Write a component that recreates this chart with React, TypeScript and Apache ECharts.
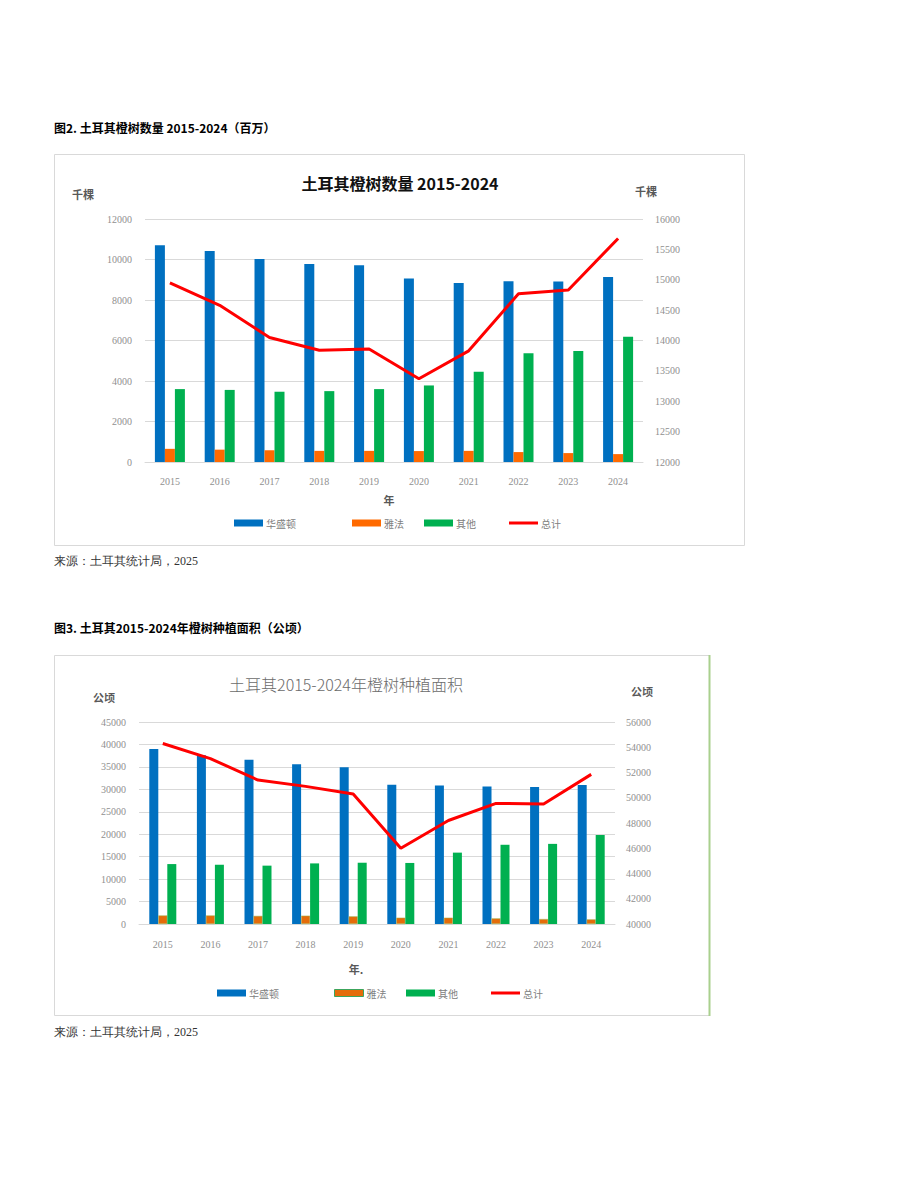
import React, { useEffect, useRef } from "react";
import * as echarts from "echarts";

const years = ["2015", "2016", "2017", "2018", "2019", "2020", "2021", "2022", "2023", "2024"];

// Figure 2: number of orange trees (thousand trees)
const treesWashington = [10700, 10420, 10020, 9780, 9720, 9060, 8840, 8930, 8910, 9130];
const treesJaffa = [650, 610, 580, 550, 550, 540, 550, 490, 440, 390];
const treesOther = [3600, 3560, 3470, 3500, 3600, 3780, 4460, 5370, 5480, 6190];
const treesTotal = [14950, 14580, 14050, 13840, 13860, 13370, 13830, 14770, 14830, 15680];

// Figure 3: planted area (hectares)
const areaWashington = [39000, 37600, 36600, 35600, 34900, 31000, 30850, 30650, 30500, 30950];
const areaJaffa = [1900, 1900, 1800, 1850, 1700, 1400, 1400, 1250, 1100, 1030];
const areaOther = [13350, 13200, 13000, 13500, 13650, 13600, 15900, 17650, 17850, 19850];
const areaTotal = [54300, 53100, 51400, 50900, 50300, 46000, 48200, 49550, 49500, 51850];

const seriesNames = ["华盛顿", "雅法", "其他", "总计"];

const BLUE = "#0070C0";
const ORANGE1 = "#FF6A00";
const ORANGE2 = "#E46C0A";
const GREEN = "#00B050";
const RED = "#FF0000";

const CJK = "'Noto Sans CJK SC', 'Noto Sans', sans-serif";
const NUM = "'Liberation Serif', 'DejaVu Serif', serif";
const LABEL_GRAY = "#8f8f8f";
const GRID_GRAY = "#d9d9d9";

export default function App() {
  const ref = useRef<HTMLDivElement>(null);

  useEffect(() => {
    if (!ref.current) return;
    const chart = echarts.init(ref.current, null, { renderer: "svg" });

    const axisLabel = {
      color: LABEL_GRAY,
      fontFamily: NUM,
      fontSize: 10,
      formatter: (v: any) => String(v),
    };

    const makeLegend = (left: number, top: number, name: string, extra: any = {}, itemHeight = 7) => ({
      left,
      top,
      padding: 0,
      itemWidth: 29,
      itemHeight,
      itemGap: 4,
      selectedMode: false,
      textStyle: { color: "#808080", fontFamily: CJK, fontSize: 10, padding: [0, 0, 0, -2], height: 12, lineHeight: 12 },
      data: [{ name, icon: "rect", ...extra }],
    });

    const option: any = {
      animation: false,
      backgroundColor: "#ffffff",
      grid: [
        { left: 145, top: 219, width: 498, height: 243 },
        { left: 139, top: 722, width: 476, height: 202 },
      ],
      xAxis: [
        {
          type: "category",
          gridIndex: 0,
          data: years,
          axisLine: { show: true, lineStyle: { color: GRID_GRAY } },
          axisTick: { show: false },
          axisLabel: { ...axisLabel, margin: 14 },
        },
        {
          type: "category",
          gridIndex: 1,
          data: years,
          axisLine: { show: true, lineStyle: { color: GRID_GRAY } },
          axisTick: { show: false },
          axisLabel: { ...axisLabel, margin: 15 },
        },
      ],
      yAxis: [
        {
          type: "value",
          gridIndex: 0,
          min: 0,
          max: 12000,
          interval: 2000,
          axisLine: { show: false },
          axisTick: { show: false },
          splitLine: { lineStyle: { color: GRID_GRAY } },
          axisLabel: { ...axisLabel, margin: 13 },
        },
        {
          type: "value",
          gridIndex: 0,
          position: "right",
          min: 12000,
          max: 16000,
          interval: 500,
          axisLine: { show: false },
          axisTick: { show: false },
          splitLine: { show: false },
          axisLabel: { ...axisLabel, margin: 12 },
        },
        {
          type: "value",
          gridIndex: 1,
          min: 0,
          max: 45000,
          interval: 5000,
          axisLine: { show: false },
          axisTick: { show: false },
          splitLine: { lineStyle: { color: GRID_GRAY } },
          axisLabel: { ...axisLabel, margin: 13 },
        },
        {
          type: "value",
          gridIndex: 1,
          position: "right",
          min: 40000,
          max: 56000,
          interval: 2000,
          axisLine: { show: false },
          axisTick: { show: false },
          splitLine: { show: false },
          axisLabel: { ...axisLabel, margin: 11 },
        },
      ],
      legend: [
        makeLegend(234, 517, seriesNames[0], { itemStyle: { color: BLUE } }),
        makeLegend(352, 517, seriesNames[1], { itemStyle: { color: ORANGE1 } }),
        makeLegend(424, 517, seriesNames[2], { itemStyle: { color: GREEN } }),
        makeLegend(509, 517, seriesNames[3], { itemStyle: { color: RED } }, 3),
        makeLegend(217, 987, seriesNames[0], { itemStyle: { color: BLUE } }),
        makeLegend(334, 987, seriesNames[1], { itemStyle: { color: ORANGE2, borderColor: "#3CA55C", borderWidth: 1 } }),
        makeLegend(406, 987, seriesNames[2], { itemStyle: { color: GREEN } }),
        makeLegend(491, 987, seriesNames[3], { itemStyle: { color: RED } }, 3),
      ],
      series: [
        { name: seriesNames[0], type: "bar", xAxisIndex: 0, yAxisIndex: 0, data: treesWashington, barWidth: 10, barGap: "0%", itemStyle: { color: BLUE } },
        { name: seriesNames[1], type: "bar", xAxisIndex: 0, yAxisIndex: 0, data: treesJaffa, barWidth: 10, barGap: "0%", itemStyle: { color: ORANGE1 } },
        { name: seriesNames[2], type: "bar", xAxisIndex: 0, yAxisIndex: 0, data: treesOther, barWidth: 10, barGap: "0%", itemStyle: { color: GREEN } },
        {
          name: seriesNames[3], type: "line", xAxisIndex: 0, yAxisIndex: 1, data: treesTotal,
          symbol: "none", lineStyle: { color: RED, width: 3 }, itemStyle: { color: RED },
        },
        { name: seriesNames[0], type: "bar", xAxisIndex: 1, yAxisIndex: 2, data: areaWashington, barWidth: 9, barGap: "0%", itemStyle: { color: BLUE } },
        { name: seriesNames[1], type: "bar", xAxisIndex: 1, yAxisIndex: 2, data: areaJaffa, barWidth: 9, barGap: "0%", itemStyle: { color: ORANGE2, borderColor: "#9BBB59", borderWidth: 0.5 } },
        { name: seriesNames[2], type: "bar", xAxisIndex: 1, yAxisIndex: 2, data: areaOther, barWidth: 9, barGap: "0%", itemStyle: { color: GREEN } },
        {
          name: seriesNames[3], type: "line", xAxisIndex: 1, yAxisIndex: 3, data: areaTotal,
          symbol: "none", lineStyle: { color: RED, width: 3 }, itemStyle: { color: RED },
        },
      ],
      graphic: [
        // frames
        { type: "rect", shape: { x: 54.5, y: 154.5, width: 690, height: 391 }, style: { fill: "none", stroke: GRID_GRAY, lineWidth: 1 }, z: -1 },
        { type: "rect", shape: { x: 54.5, y: 655.5, width: 655, height: 360 }, style: { fill: "none", stroke: GRID_GRAY, lineWidth: 1 }, z: -1 },
        { type: "line", shape: { x1: 709.5, y1: 655, x2: 709.5, y2: 1016 }, style: { stroke: "#A9D08E", lineWidth: 2 } },
        // headings
        { type: "text", x: 54, y: 127, style: { text: "图2. 土耳其橙树数量 2015-2024（百万）", font: `bold 12px ${CJK}`, fill: "#000", textVerticalAlign: "middle" } },
        { type: "text", x: 54, y: 627, style: { text: "图3. 土耳其2015-2024年橙树种植面积（公顷）", font: `bold 12px ${CJK}`, fill: "#000", textVerticalAlign: "middle" } },
        // chart titles
        { type: "text", x: 400, y: 183, style: { text: "土耳其橙树数量 2015-2024", font: `bold 16px ${CJK}`, fill: "#111", textAlign: "center", textVerticalAlign: "middle" } },
        { type: "text", x: 346, y: 684, style: { text: "土耳其2015-2024年橙树种植面积", font: `300 16px ${CJK}`, fill: "#6b6b6b", textAlign: "center", textVerticalAlign: "middle" } },
        // axis units
        { type: "text", x: 83, y: 194, style: { text: "千棵", font: `bold 11px ${CJK}`, fill: "#595959", textAlign: "center", textVerticalAlign: "middle" } },
        { type: "text", x: 646, y: 191, style: { text: "千棵", font: `bold 11px ${CJK}`, fill: "#595959", textAlign: "center", textVerticalAlign: "middle" } },
        { type: "text", x: 104, y: 697, style: { text: "公顷", font: `bold 11px ${CJK}`, fill: "#595959", textAlign: "center", textVerticalAlign: "middle" } },
        { type: "text", x: 642, y: 691, style: { text: "公顷", font: `bold 11px ${CJK}`, fill: "#595959", textAlign: "center", textVerticalAlign: "middle" } },
        // x axis names
        { type: "text", x: 389, y: 500, style: { text: "年", font: `bold 11px ${CJK}`, fill: "#595959", textAlign: "center", textVerticalAlign: "middle" } },
        { type: "text", x: 356, y: 969, style: { text: "年.", font: `bold 11px ${CJK}`, fill: "#595959", textAlign: "center", textVerticalAlign: "middle" } },
        // sources
        { type: "text", x: 54, y: 561, style: { text: "来源：土耳其统计局，2025", font: `12px ${NUM}`, fill: "#333", textVerticalAlign: "middle" } },
        { type: "text", x: 54, y: 1032, style: { text: "来源：土耳其统计局，2025", font: `12px ${NUM}`, fill: "#333", textVerticalAlign: "middle" } },
      ],
    };

    chart.setOption(option);
    return () => chart.dispose();
  }, []);

  return (
    <div style={{ position: "absolute", left: 0, top: 0, width: 920, height: 1191, background: "#fff" }}>
      <div ref={ref} style={{ width: 920, height: 1191 }} />
    </div>
  );
}
